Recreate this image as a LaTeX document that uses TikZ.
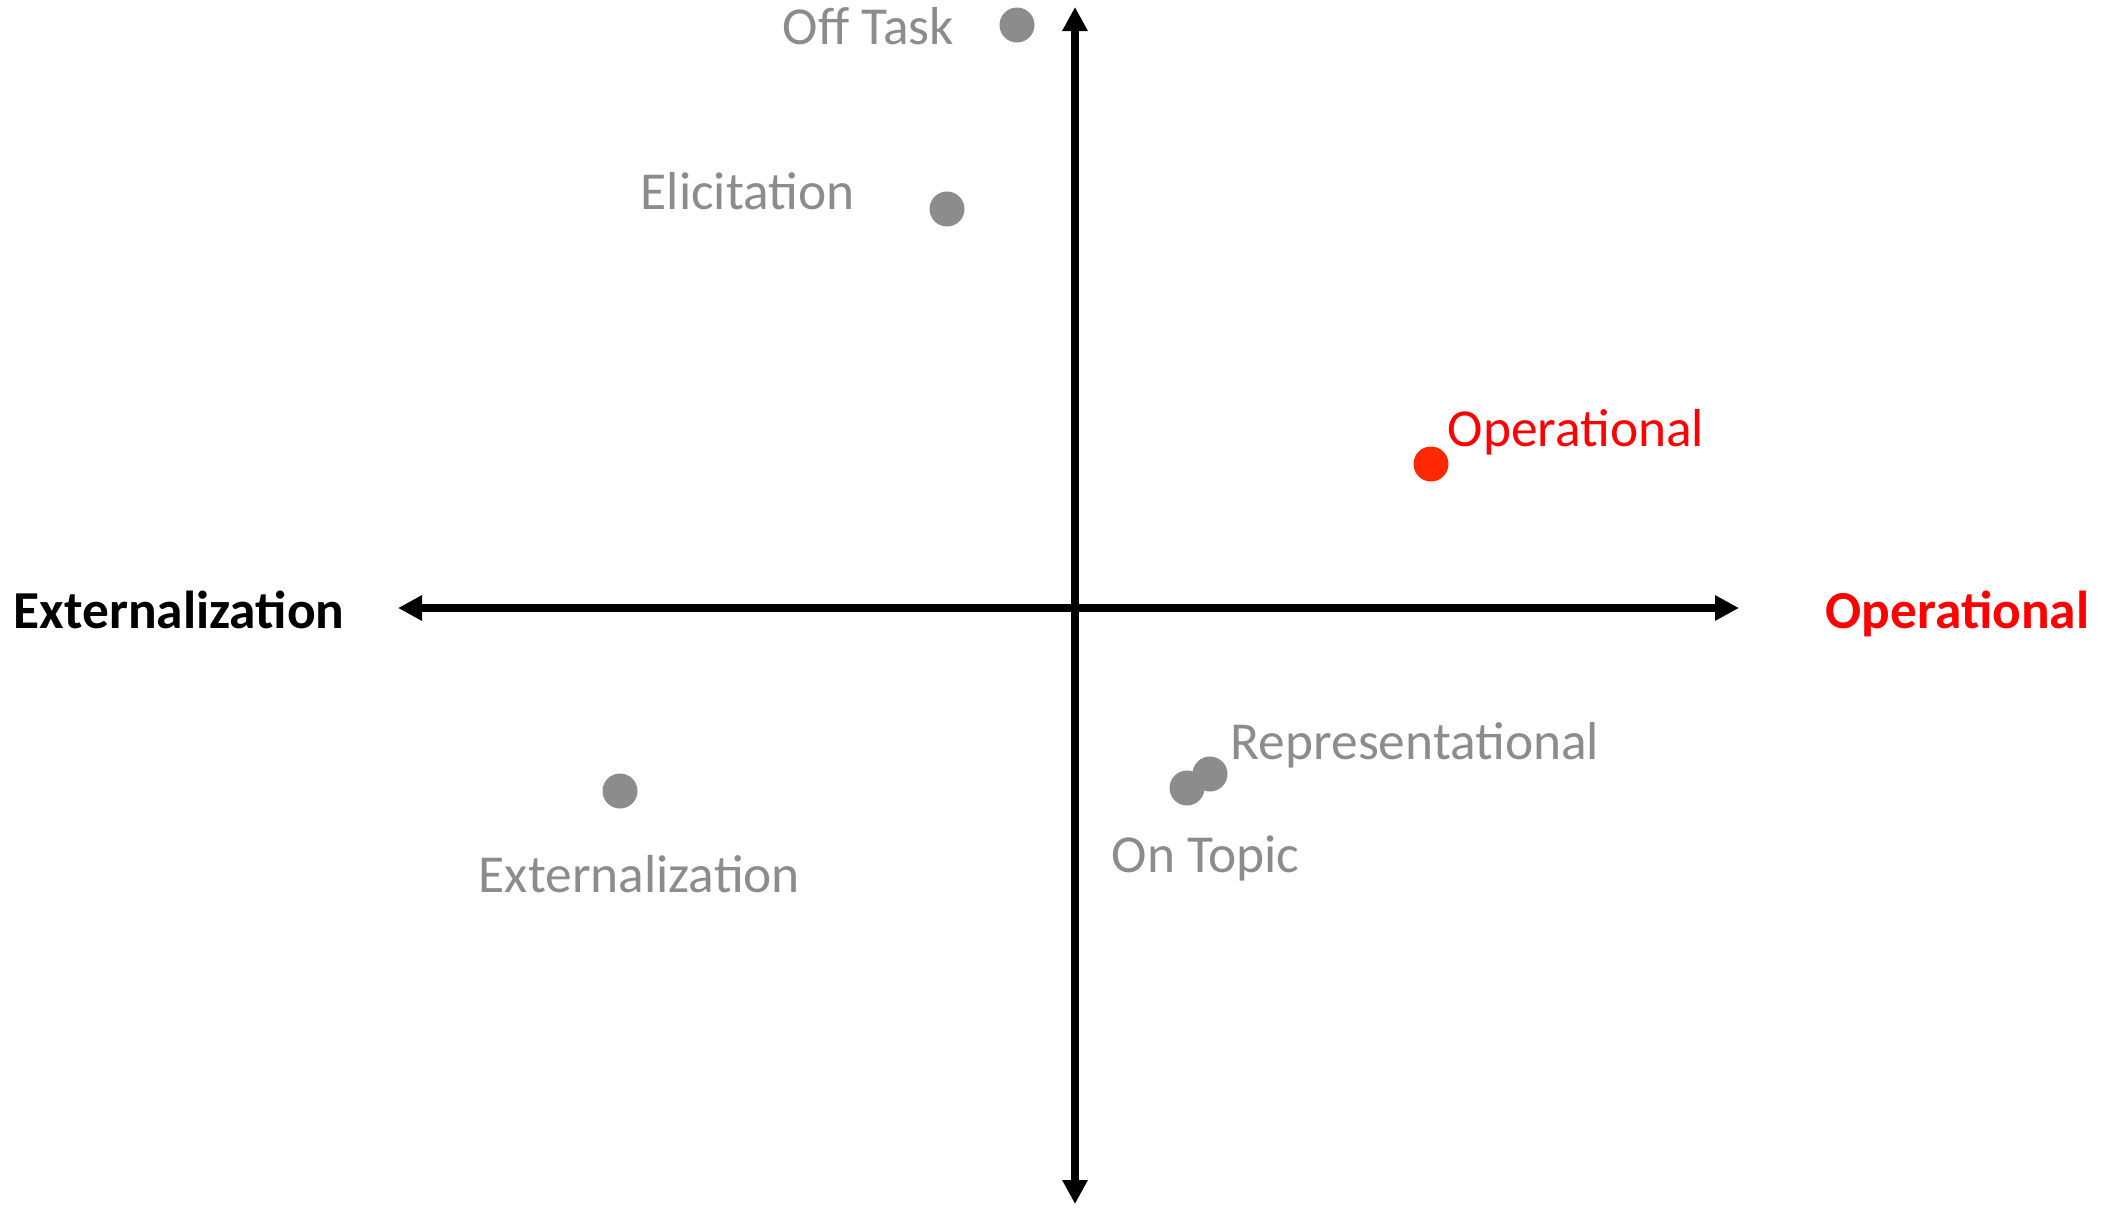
\documentclass[tikz,border=0pt]{standalone}
\usepackage{fontspec}
\setmainfont{Carlito}
\usetikzlibrary{arrows.meta}
\definecolor{dotgray}{RGB}{140,140,140}
\definecolor{oppred}{RGB}{255,0,0}
\definecolor{dotred}{RGB}{255,40,0}

\begin{document}
\begin{tikzpicture}[x=0.1mm,y=-0.1mm]
\tikzset{
  pt/.style={circle,fill=dotgray,inner sep=0pt,minimum size=3.5mm},
  lab/.style={text=dotgray,font=\fontsize{15.2}{18}\selectfont,inner sep=0pt,anchor=base west},
  axislab/.style={font=\fontsize{15.2}{18}\selectfont\bfseries,inner sep=0pt,anchor=base west},
  axis/.style={line width=0.8mm,{Triangle[length=2.4mm,width=2.4mm]}-{Triangle[length=2.4mm,width=2.4mm]}}
}
\useasboundingbox (0,0) rectangle (2101,1211);
% axes
\coordinate (top) at (1075,7);
\coordinate (bottom) at (1075,1204);
\coordinate (left) at (398,608);
\coordinate (right) at (1739,608);
\draw[axis] (left)--(right);
\draw[axis] (bottom)--(top);
\node[axislab] (xneg) at (13,628) {Externalization};
\node[axislab,text=oppred] (xpos) at (1825,628) {Operational};
% points
\node[pt] (offtask) at (1017,25) {};
\node[pt] (elicit) at (947,209) {};
\node[pt,fill=dotred] (oper) at (1431,464) {};
\node[pt] (repr) at (1210,774) {};
\node[pt] (ontopic) at (1187,788) {};
\node[pt] (extern) at (620,791) {};
% labels
\node[lab] (offtaskl) at (782,44) {Off Task};
\node[lab] (elicitl) at (640,209) {Elicitation};
\node[lab,text=oppred] (operl) at (1447,446) {Operational};
\node[lab] (reprl) at (1230,759) {Representational};
\node[lab] (ontopicl) at (1111,872) {On Topic};
\node[lab] (externl) at (478,892) {Externalization};
\end{tikzpicture}
\end{document}
